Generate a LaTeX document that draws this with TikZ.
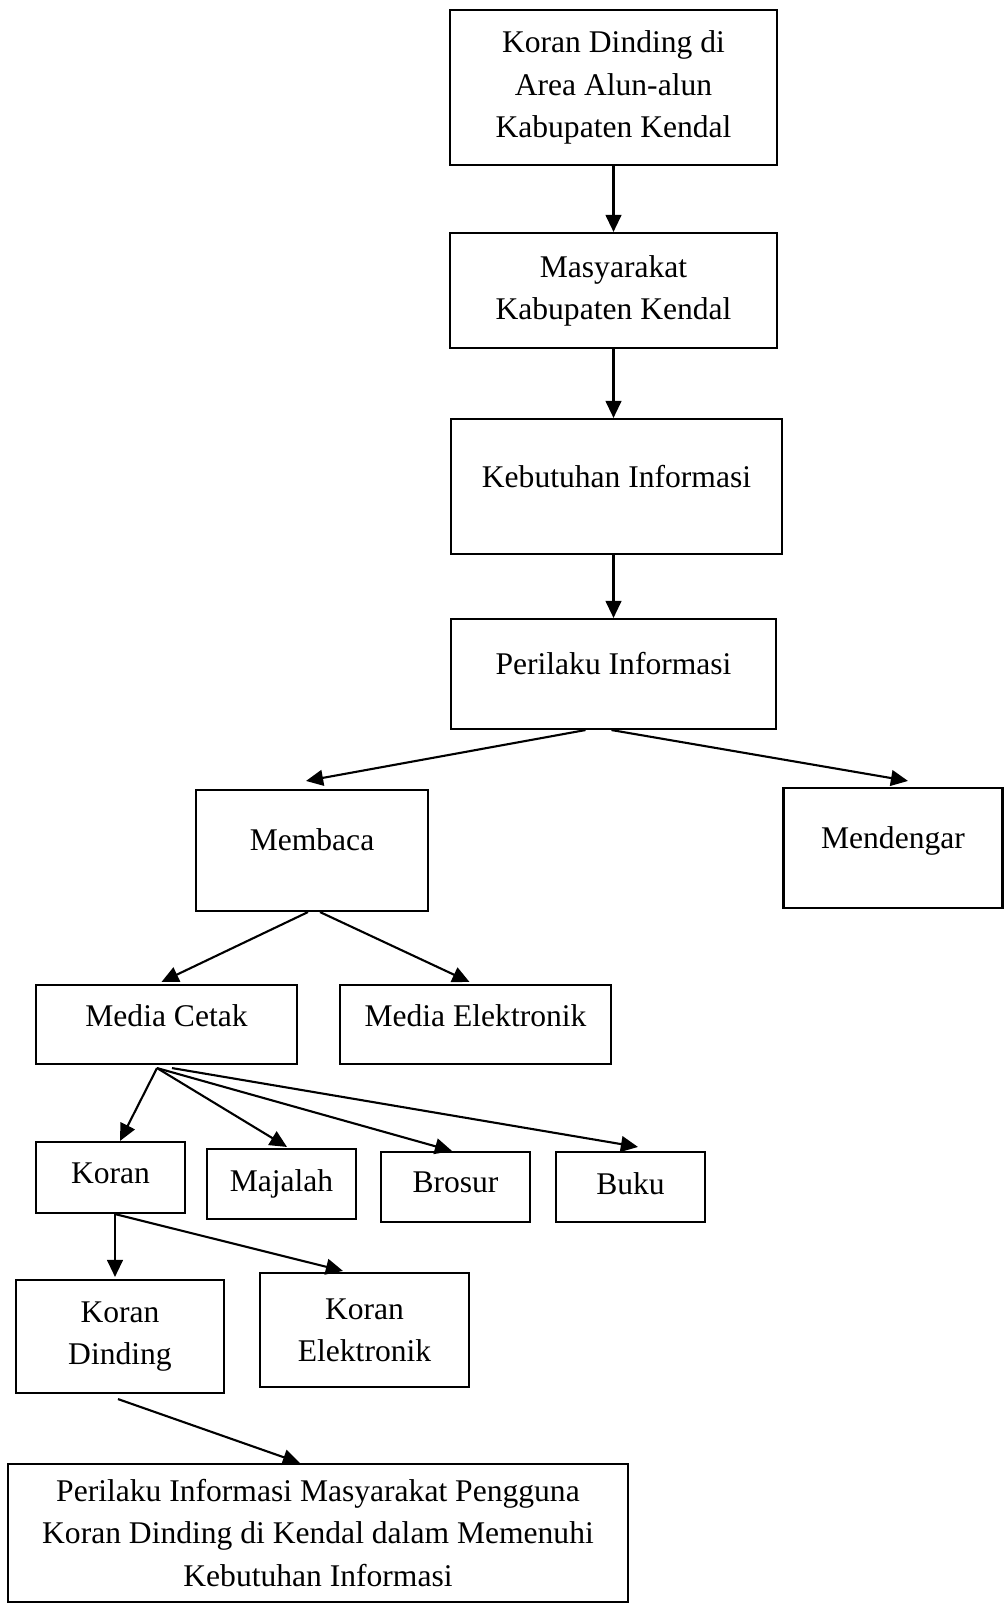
\documentclass[tikz,border=0pt]{standalone}
\usepackage{fontspec}
\setmainfont{Liberation Serif}
\usepackage{tikz}
\usetikzlibrary{arrows.meta, calc, positioning}

\begin{document}
\begin{tikzpicture}[x=0.38pt, y=-0.38pt,
	kotak/.style={draw, line width=0.8pt, inner sep=0pt, align=center, font=\fontsize{12pt}{16pt}\selectfont},
	ukuran/.style 2 args={minimum width=#1*0.38pt, minimum height=#2*0.38pt},
	naik/.style={text depth=#1},
	panah/.style={line width=0.8pt, -{Triangle[length=6.5pt,width=6pt]}}]
						\useasboundingbox (0,0) rectangle (1004,1603);

						\node[kotak, ukuran={327}{155}] (koranalun) at (613.5,87.5) {Koran Dinding di\\Area Alun-alun\\Kabupaten Kendal};
						\node[kotak, ukuran={327}{115}] (masyarakat) at (613.5,290.5) {Masyarakat\\Kabupaten Kendal};
						\node[kotak, ukuran={331}{135}, naik=8pt] (kebutuhan) at (616.5,486.5) {Kebutuhan Informasi};
						\node[kotak, ukuran={325}{110}, naik=8pt] (perilaku) at (613.5,674) {Perilaku Informasi};

						\node[kotak, ukuran={232}{121}, naik=8pt] (membaca) at (312,850.5) {Membaca};
						\node[kotak, ukuran={219}{120}, naik=8pt] (mendengar) at (893,848) {Mendengar};

						\node[kotak, ukuran={261}{79}, naik=6.5pt] (cetak) at (166.5,1024.5) {Media Cetak};
						\node[kotak, ukuran={271}{79}, naik=6.5pt] (elektronik) at (475.5,1024.5) {Media Elektronik};

						\node[kotak, ukuran={149}{71}, naik=3pt] (koran) at (110.5,1177.5) {Koran};
						\node[kotak, ukuran={149}{70}] (majalah) at (281.5,1184) {Majalah};
						\node[kotak, ukuran={149}{70}, naik=4pt] (brosur) at (455.5,1187) {Brosur};
						\node[kotak, ukuran={149}{70}, naik=3pt] (buku) at (630.5,1187) {Buku};

						\node[kotak, ukuran={208}{113}] (kdinding) at (120,1336.5) {Koran\\Dinding};
						\node[kotak, ukuran={209}{114}] (kelektronik) at (364.5,1330) {Koran\\Elektronik};

						\node[kotak, ukuran={620}{138}] (hasil) at (318,1533) {Perilaku Informasi Masyarakat Pengguna\\Koran Dinding di Kendal dalam Memenuhi\\Kebutuhan Informasi};

						\draw[panah] (koranalun.south) -- (masyarakat.north);
						\draw[panah] (masyarakat.south) -- (masyarakat.south |- kebutuhan.north);
						\draw[panah] (perilaku.north |- kebutuhan.south) -- (perilaku.north);

						\draw[panah] ($(perilaku.south)+(-28,0)$) -- ($(membaca.north)+(-6,-8)$);
						\draw[panah] ($(perilaku.south)+(-2,0)$) -- ($(mendengar.north)+(15,-6)$);

						\draw[panah] ($(membaca.south)+(-4,0)$) -- ($(cetak.north)+(-5,-2)$);
						\draw[panah] ($(membaca.south)+(8,0)$) -- ($(elektronik.north)+(-6,-2)$);

						\draw[panah] ($(cetak.south)+(-9.5,3)$) -- ($(koran.north)+(9.5,0)$);
						\draw[panah] ($(cetak.south)+(-9.5,3)$) -- ($(majalah.north)+(5.5,-1)$);
						\draw[panah] ($(cetak.south)+(-9.5,3)$) -- ($(brosur.north)+(-3.5,0)$);
						\draw[panah] ($(cetak.south)+(5.5,3)$) -- ($(buku.north)+(7.5,-4)$);

						\draw[panah] ($(koran.south)+(4.5,0)$) -- ($(kdinding.north)+(-5,-2)$);
						\draw[panah] ($(koran.south)+(4.5,0)$) -- ($(kelektronik.north)+(-21.5,-1)$);

						\draw[panah] ($(kdinding.south)+(-2,5)$) -- ($(hasil.north)+(-18,0)$);
					\end{tikzpicture}
\end{document}
